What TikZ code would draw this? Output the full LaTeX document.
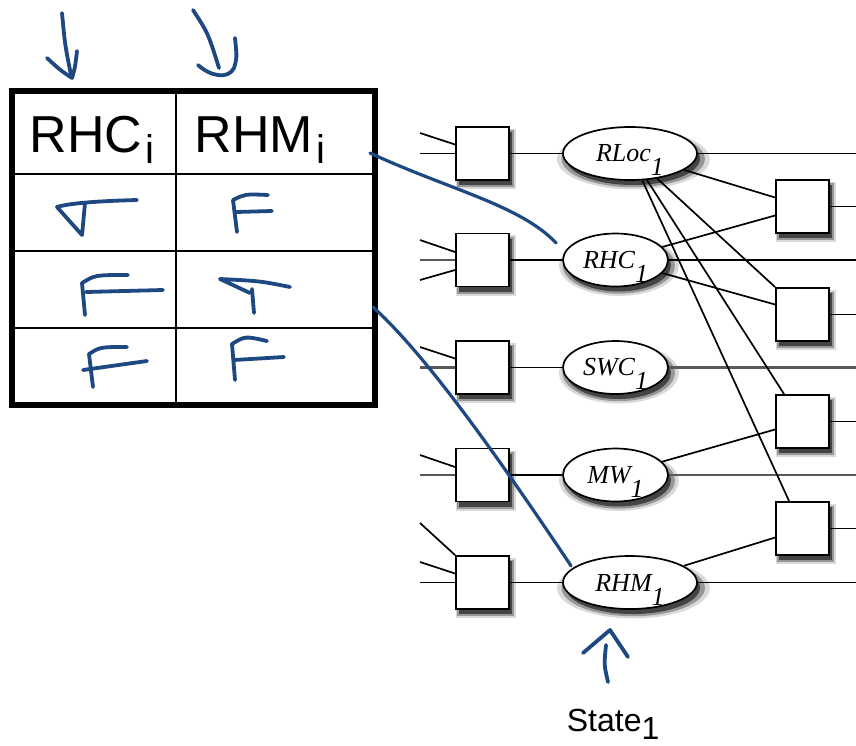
\documentclass[tikz,border=0pt]{standalone}
\usepackage{fontspec}
\usepackage{tikz}
\usetikzlibrary{shapes,arrows,positioning,calc,shadows}
\newfontfamily\hv{Liberation Sans}
\newfontfamily\tm{Liberation Serif}
\definecolor{ink}{RGB}{30,72,130}

\begin{document}
\begin{tikzpicture}[x=1pt,y=-1pt,line width=1.7pt,
	soft/.style={general shadow={shadow xshift=3pt,shadow yshift=-5pt,shadow scale=1.14,fill=black,opacity=0.15},
		general shadow={shadow xshift=3pt,shadow yshift=-5pt,shadow scale=1.07,fill=black,opacity=0.3},
		general shadow={shadow xshift=3pt,shadow yshift=-5pt,fill=black,opacity=0.55}},
	sqbox/.style={draw,line width=1.9pt,fill=white,minimum size=53pt,inner sep=0pt,soft},
	var/.style={ellipse,draw,line width=1.7pt,fill=white,minimum height=53pt,inner sep=0pt,font=\tm\itshape\fontsize{26}{28}\selectfont,soft},
	head/.style={anchor=base west,inner sep=0pt,font=\hv\fontsize{52}{58}\selectfont},
	hand/.style={ink,line width=3.8pt,line cap=round,line join=round},
	dbl/.style={line width=2.5pt,black!65}]
						\useasboundingbox (0,0) rectangle (856,745);
						\draw[line width=2pt] (176,91) -- (176,405);
						\foreach \y in {174,251,328}
							\draw[line width=2pt] (12,\y) -- (375,\y);
						\draw[line width=5.5pt] (12,91) rectangle (375,405);
						\node[head] (hrhc) at (29,152) {RHC\kern3pt\raisebox{-11pt}{\fontsize{40}{40}\selectfont i}};
						\node[head] (hrhm) at (194,152) {RHM\kern3pt\raisebox{-11pt}{\fontsize{40}{40}\selectfont i}};
						\node[sqbox] (s11) at (482.5,153.5) {};
						\node[sqbox] (s12) at (482.5,260) {};
						\node[sqbox] (s13) at (482.5,367.5) {};
						\node[sqbox] (s14) at (482.5,475) {};
						\node[sqbox] (s15) at (482.5,582.5) {};
						\node[var,minimum width=134pt] (rloc) at (630,153.5) {RLoc\raisebox{-14pt}[0pt][0pt]{1}};
						\node[var,minimum width=105pt] (rhc) at (615.5,260) {RHC\raisebox{-14pt}[0pt][0pt]{1}};
						\node[var,minimum width=105pt] (swc) at (615.5,367.5) {SWC\raisebox{-14pt}[0pt][0pt]{1}};
						\node[var,minimum width=105pt] (mw) at (615.5,475) {MW\raisebox{-14pt}[0pt][0pt]{1}};
						\node[var,minimum width=134pt] (rhm) at (630,582.5) {RHM\raisebox{-14pt}[0pt][0pt]{1}};
						\node[sqbox] (s21) at (802.5,206.5) {};
						\node[sqbox] (s22) at (802.5,314.5) {};
						\node[sqbox] (s23) at (802.5,421.5) {};
						\node[sqbox] (s24) at (802.5,528.5) {};
						\node[anchor=base west,inner sep=0pt,font=\hv\fontsize{32}{36}\selectfont] (state) at (566,731) {State\raisebox{-8pt}{1}};
						\foreach \s/\y in {s11/153.5,s15/582.5}
							\draw (420,\y) coordinate (h-\s) -- (\s);
						\foreach \s/\y in {s12/260,s13/367.5,s14/475}
							\draw[dbl] (420,\y) coordinate (h-\s) -- (\s);
						\foreach \s/\y/\d in {s11/133/9,s12/240/8,s13/347/9,s14/455/8,s15/562/9}
							\draw (420,\y) coordinate (u-\s) -- ([yshift=\d pt]\s.west);
						\draw (420,280) coordinate (l-s12) -- ([yshift=-10pt]s12.west);
						\draw (420,523) coordinate (t-s15) -- (s15.north west);
						\foreach \s/\e in {s11/rloc,s12/rhc,s13/swc,s14/mw,s15/rhm}
							\draw (\s) -- (\e);
						\foreach \e/\y in {rloc/153.5,rhc/260,rhm/582.5}
							\draw (\e) -- (856,\y) coordinate (o-\e);
						\foreach \e/\y in {swc/367.5,mw/475}
							\draw[dbl] (\e) -- (856,\y) coordinate (o-\e);
						\foreach \s/\y in {s21/206.5,s22/314.5,s23/421.5,s24/528.5}
							\draw (\s) -- (856,\y) coordinate (o-\s);
						\draw (rloc) -- ([yshift=9pt]s21.west);
						\draw (rhc) -- ([yshift=-9pt]s21.west);
						\draw (rhc) -- ([yshift=10pt]s22.west);
						\draw (rloc) -- (s22.north west);
						\draw (rloc) -- ([xshift=9pt]s23.north west);
						\draw (rloc) -- ([xshift=14pt]s24.north west);
						\draw (mw) -- ([yshift=-8pt]s23.west);
						\draw (rhm) -- ([yshift=-9pt]s24.west);
						\coordinate (tab-a) at (370,153);
						\coordinate (tab-b) at (373,307);
						\draw[hand,line width=3.2pt] (tab-a) .. controls (450,190) and (520,205) .. ([xshift=-6pt,yshift=17pt]rhc.west);
						\draw[hand,line width=3.2pt] (tab-b) .. controls (420,350) and (480,430) .. ([xshift=9pt,yshift=16.5pt]rhm.west);
						\draw[hand] (62,13) .. controls (65,45) .. (71,75);
						\draw[hand] (47,58) .. controls (60,70) .. (72,78) .. controls (75,68) .. (77,51);
						\draw[hand] (193,10) .. controls (208,33) .. (219,68);
						\draw[hand] (198,65) .. controls (210,76) and (228,80) .. (234,68) .. controls (237,58) .. (235,38);
						\draw[hand] (137,200) .. controls (100,201) and (70,203) .. (57,207) -- (82,235) .. controls (83,225) .. (85,203);
						\draw[hand] (237,232) -- (233,200) .. controls (245,194) .. (268,195);
						\draw[hand] (236,212) -- (272,211);
						\draw[hand] (85,315) -- (82,283) .. controls (95,275) .. (128,275);
						\draw[hand] (86,292) -- (163,290);
						\draw[hand] (290,287) .. controls (260,281) .. (220,279) -- (250,293);
						\draw[hand] (252,289) -- (254,313);
						\draw[hand] (93,387) -- (89,354) .. controls (100,347) .. (127,347);
						\draw[hand] (83,370) -- (147,361);
						\draw[hand] (235,380) -- (232,344) .. controls (245,336) .. (267,341);
						\draw[hand] (234,360) -- (284,357);
						\draw[hand] (608,682) .. controls (604,665) .. (606,645);
						\draw[hand] (583,653) -- (610,630) -- (628,657);
					\end{tikzpicture}
\end{document}
